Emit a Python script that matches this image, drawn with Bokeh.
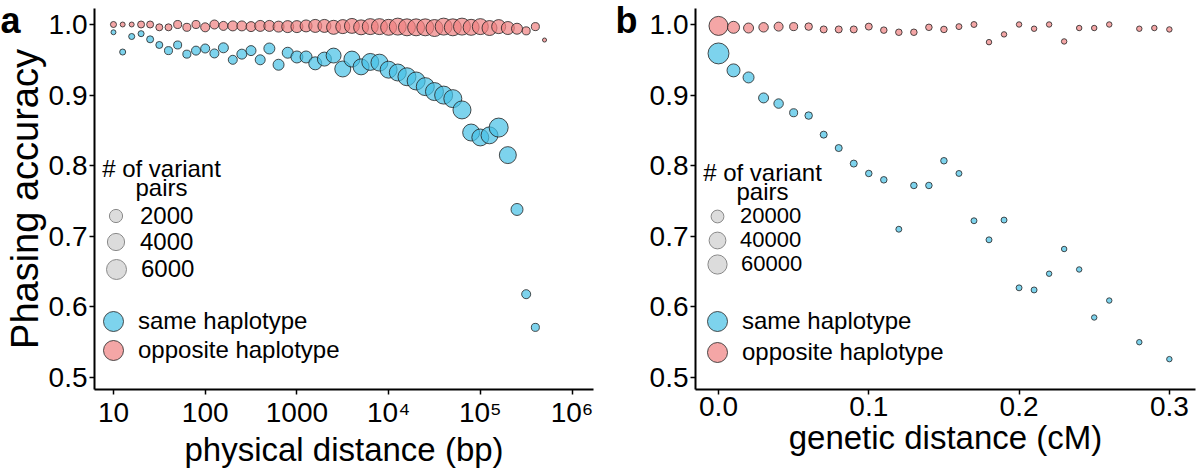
from bokeh.plotting import figure
from bokeh.models import (ColumnDataSource, Legend, LegendItem, Label, FixedTicker,
                          PrintfTickFormatter, Range1d)
from bokeh.layouts import row
from bokeh.embed import file_html
from bokeh.resources import INLINE

# ---------------- data: panel a (physical distance, bp) ----------------
phys_dist = [10, 12.6, 15.8, 20.0, 25.1, 31.6, 39.8, 50.1, 63.1, 79.4,
             100, 126, 158, 200, 251, 316, 398, 501, 631, 794,
             1000, 1259, 1585, 1995, 2512, 3162, 3981, 5012, 6310, 7943,
             10000, 12589, 15849, 19953, 25119, 31623, 39811, 50119, 63096, 79433,
             100000, 125893, 158489, 199526, 251189, 316228, 398107, 501187]

a_same_acc = [0.989, 0.961, 0.983, 0.987, 0.979, 0.971, 0.963, 0.971, 0.958, 0.963,
              0.966, 0.959, 0.967, 0.950, 0.958, 0.963, 0.950, 0.966, 0.943, 0.960,
              0.954, 0.954, 0.945, 0.951, 0.956, 0.937, 0.951, 0.940, 0.947, 0.946,
              0.936, 0.932, 0.926, 0.920, 0.912, 0.905, 0.900, 0.895, 0.879, 0.847,
              0.840, 0.843, 0.854, 0.815, 0.738, 0.618, 0.571]
a_same_pairs = [50, 150, 150, 150, 280, 280, 460, 460, 460, 680,
                680, 680, 940, 680, 940, 940, 940, 1250, 1250, 1250,
                1600, 1600, 2000, 2450, 2900, 3450, 3450, 3450, 4000, 4000,
                4000, 4000, 4650, 4650, 4650, 4650, 4650, 4650, 4650, 4000,
                4000, 4000, 5300, 4000, 1600, 680, 460]

a_opp_acc = [1.000, 1.000, 1.000, 1.000, 1.000, 0.996, 0.996, 1.000, 0.996, 1.000,
             0.996, 1.000, 0.998, 0.998, 0.998, 0.997, 0.998, 0.998, 0.997, 0.997,
             0.997, 0.998, 0.998, 0.998, 0.996, 0.997, 0.998, 0.996, 0.997, 0.997,
             0.996, 0.997, 0.996, 0.996, 0.996, 0.995, 0.997, 0.996, 0.997, 0.996,
             0.997, 0.995, 0.997, 0.995, 0.994, 0.991, 0.997, 0.978]
a_opp_pairs = [150, 50, 50, 280, 280, 280, 280, 460, 460, 460,
               680, 680, 680, 940, 940, 940, 1250, 1250, 1250, 1600,
               1600, 1600, 2000, 2000, 2450, 2450, 2900, 2900, 3450, 3450,
               3450, 4000, 4000, 4000, 4000, 4000, 4000, 4000, 4000, 3450,
               3450, 2900, 2450, 2000, 1250, 460, 460, 10]

a_x_ticks = [10, 100, 1000, 10000, 100000, 1000000]
a_x_labels = ["10", "100", "1000", "10\u2074", "10\u2075", "10\u2076"]
a_size_keys = [2000, 4000, 6000]

# ---------------- data: panel b (genetic distance, cM) ----------------
b_same_cm = [0.00, 0.01, 0.02, 0.03, 0.04, 0.05, 0.06, 0.07, 0.08, 0.09,
             0.10, 0.11, 0.12, 0.13, 0.14, 0.15, 0.16, 0.17, 0.18, 0.19,
             0.20, 0.21, 0.22, 0.23, 0.24, 0.25, 0.26, 0.28, 0.30]
b_same_acc = [0.959, 0.935, 0.925, 0.896, 0.888, 0.875, 0.871, 0.844, 0.825, 0.803,
              0.789, 0.780, 0.710, 0.772, 0.772, 0.807, 0.789, 0.722, 0.695, 0.723,
              0.627, 0.624, 0.647, 0.682, 0.653, 0.585, 0.609, 0.550, 0.526]
b_same_pairs = [67000, 20000, 12500, 9400, 8000, 4600, 3600, 2800, 2800, 2800,
                2100, 2100, 1400, 2100, 2100, 2100, 1400, 1400, 1400, 1400,
                1400, 1400, 900, 900, 900, 900, 900, 900, 900]

b_opp_cm = [0.00, 0.01, 0.02, 0.03, 0.04, 0.05, 0.06, 0.07, 0.08, 0.09,
            0.10, 0.11, 0.12, 0.13, 0.14, 0.15, 0.16, 0.17, 0.18, 0.19,
            0.20, 0.21, 0.22, 0.23, 0.24, 0.25, 0.26, 0.28, 0.29, 0.30]
b_opp_acc = [0.998, 0.996, 0.995, 0.996, 0.997, 0.997, 0.997, 0.993, 0.993, 0.993,
             0.997, 0.992, 0.989, 0.989, 0.996, 0.993, 0.997, 1.000, 0.975, 0.986,
             1.000, 0.994, 1.000, 0.976, 0.995, 0.995, 1.000, 0.994, 0.995, 0.993]
b_opp_pairs = [53000, 16000, 9400, 8000, 6800, 4600, 3600, 2800, 2800, 2800,
               2800, 2100, 2100, 2100, 2100, 2100, 1400, 1400, 900, 900,
               900, 900, 900, 900, 900, 900, 900, 900, 900, 900]

b_x_ticks = [0.0, 0.1, 0.2, 0.3]
b_size_keys = [20000, 40000, 60000]

y_ticks = [0.5, 0.6, 0.7, 0.8, 0.9, 1.0]

# ---------------- styling ----------------
FONT = "Liberation Sans"
BLUE = "#46C1E5"
PINK = "#F08080"
EDGE = "#222222"
NAN = float("nan")


def diam_a(n):
    return 3.43 + 0.214 * (n ** 0.5)


def diam_b(n):
    return 3.43 + 0.0677 * (n ** 0.5)


def style(p):
    p.xgrid.visible = False
    p.ygrid.visible = False
    p.outline_line_color = None
    p.background_fill_color = "white"
    for ax in p.axis:
        ax.axis_line_width = 2
        ax.axis_line_color = "black"
        ax.major_tick_line_width = 1.5
        ax.major_tick_line_color = "black"
        ax.major_tick_in = 0
        ax.major_tick_out = 5
        ax.minor_tick_line_color = None
        ax.major_label_text_font = FONT
        ax.major_label_text_font_size = "28px"
        ax.major_label_text_color = "black"
        ax.major_label_standoff = 2
        ax.axis_label_text_font = FONT
        ax.axis_label_text_font_size = "33px"
        ax.axis_label_text_font_style = "normal"
        ax.axis_label_text_color = "black"
        ax.axis_label_standoff = 0
    p.yaxis.ticker = FixedTicker(ticks=y_ticks)
    p.yaxis.formatter = PrintfTickFormatter(format="%.1f")


def panel_letter(p, letter, offset):
    t = p.title
    t.text = letter
    t.align = "left"
    t.offset = offset
    t.standoff = -65
    t.vertical_align = "bottom"
    t.text_font = FONT
    t.text_font_size = "36px"
    t.text_font_style = "bold"
    t.text_color = "black"


def key(p, renderer, label, glyph, vx, vy, standoff, size="24px"):
    lg = Legend(items=[LegendItem(label=label, renderers=[renderer])],
                location=(vx, vy), glyph_width=glyph, glyph_height=glyph,
                label_standoff=standoff, label_text_font=FONT,
                label_text_font_size=size, label_text_color="black",
                padding=0, margin=0, spacing=0, border_line_color=None,
                background_fill_alpha=0)
    p.add_layout(lg, "center")


def text(p, s, vx, vy, size="24px"):
    p.add_layout(Label(x=vx, y=vy, x_units="screen", y_units="screen", text=s,
                       text_font=FONT, text_font_size=size,
                       text_align="center", text_baseline="middle", text_color="black"))


# ---------------- panel a ----------------
pa = figure(width=610, height=473, x_axis_type="log",
            x_range=Range1d(6.21, 1.714e6), y_range=Range1d(0.4830, 1.02266),
            output_backend="svg", toolbar_location=None,
            min_border_left=90, min_border_right=17, min_border_top=8,
            min_border_bottom=84)
style(pa)
pa.yaxis.axis_label_text_font_size = "38px"
pa.xaxis.ticker = FixedTicker(ticks=a_x_ticks)
pa.xaxis.major_label_overrides = {float(t): l for t, l in zip(a_x_ticks, a_x_labels)}
pa.xaxis.axis_label = "physical distance (bp)"
pa.yaxis.axis_label = "Phasing accuracy"
panel_letter(pa, "a", -94)

src_a_same = ColumnDataSource(dict(x=phys_dist[:len(a_same_acc)], y=a_same_acc,
                                   s=[diam_a(n) for n in a_same_pairs]))
src_a_opp = ColumnDataSource(dict(x=phys_dist, y=a_opp_acc,
                                  s=[diam_a(n) for n in a_opp_pairs]))
ra_same = pa.scatter("x", "y", size="s", source=src_a_same, fill_color=BLUE,
                     fill_alpha=0.7, line_color=EDGE, line_alpha=0.8, line_width=1)
ra_opp = pa.scatter("x", "y", size="s", source=src_a_opp, fill_color=PINK,
                    fill_alpha=0.7, line_color=EDGE, line_alpha=0.8, line_width=1)
ghost_a = pa.scatter(x=[NAN], y=[NAN], size=10, fill_color="#DCDCDC",
                     line_color="#8A8A8A", line_width=1)

text(pa, "# of variant", 67, 221)
text(pa, "pairs", 67, 202)
key(pa, ghost_a, str(a_size_keys[0]), 33, 5, 157, 8)
key(pa, ghost_a, str(a_size_keys[1]), 43, 0, 126, 3)
key(pa, ghost_a, str(a_size_keys[2]), 50, -3, 95, 0)
key(pa, ra_same, "same haplotype", 50, -6, 43, 0)
key(pa, ra_opp, "opposite haplotype", 50, -6, 14, 0)

# ---------------- panel b ----------------
pb = figure(width=588, height=473,
            x_range=Range1d(-0.0153, 0.3174), y_range=Range1d(0.4830, 1.02266),
            output_backend="svg", toolbar_location=None,
            min_border_left=85, min_border_right=3, min_border_top=8,
            min_border_bottom=84)
style(pb)
pb.xaxis.ticker = FixedTicker(ticks=b_x_ticks)
pb.xaxis.formatter = PrintfTickFormatter(format="%.1f")
pb.xaxis.axis_label = "genetic distance (cM)"
panel_letter(pb, "b", -80)

src_b_same = ColumnDataSource(dict(x=b_same_cm, y=b_same_acc,
                                   s=[diam_b(n) for n in b_same_pairs]))
src_b_opp = ColumnDataSource(dict(x=b_opp_cm, y=b_opp_acc,
                                  s=[diam_b(n) for n in b_opp_pairs]))
rb_same = pb.scatter("x", "y", size="s", source=src_b_same, fill_color=BLUE,
                     fill_alpha=0.7, line_color=EDGE, line_alpha=0.8, line_width=1)
rb_opp = pb.scatter("x", "y", size="s", source=src_b_opp, fill_color=PINK,
                    fill_alpha=0.7, line_color=EDGE, line_alpha=0.8, line_width=1)
ghost_b = pb.scatter(x=[NAN], y=[NAN], size=10, fill_color="#DCDCDC",
                     line_color="#8A8A8A", line_width=1)

text(pb, "# of variant", 67, 217)
text(pb, "pairs", 67, 198)
key(pb, ghost_b, str(b_size_keys[0]), 32, 6, 157, 7, "22px")
key(pb, ghost_b, str(b_size_keys[1]), 42, 1, 128, 2, "22px")
key(pb, ghost_b, str(b_size_keys[2]), 48, -2, 101, 0, "22px")
key(pb, rb_same, "same haplotype", 50, -3, 43, 0)
key(pb, rb_opp, "opposite haplotype", 50, -3, 12, 0)

layout = row(pa, pb)
open("out.html", "w").write(file_html(layout, INLINE))
